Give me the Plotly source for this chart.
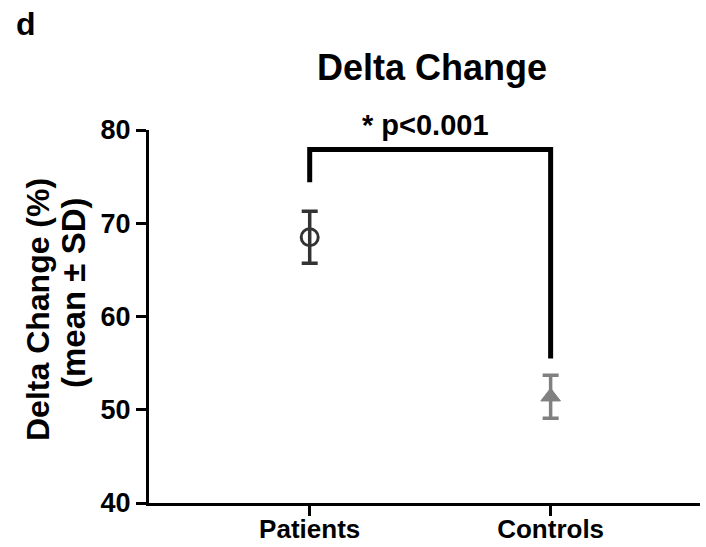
import plotly.graph_objects as go

groups = ["Patients", "Controls"]
means = [68.5, 51.4]
sds = [2.8, 2.3]
colors = ["#333333", "#808080"]
symbols = ["circle-open", "triangle-up"]
yticks = [40, 50, 60, 70, 80]
p_label = "* p<0.001"
bracket_top = 77.9
bracket_left_bottom = 74.4
bracket_right_bottom = 55.5

FONT = "Liberation Sans, Arial, sans-serif"
L, R, T, B = 149, 6, 130, 44
W, H = 706, 547
PW, PH = W - L - R, H - T - B


def px_x(p):
    return (p - L) / PW


def px_y(p):
    return (H - B - p) / PH


fig = go.Figure()
for i, g in enumerate(groups):
    fig.add_trace(go.Scatter(
        x=[i], y=[means[i]], mode="markers",
        marker=dict(symbol=symbols[i], size=17, color=colors[i],
                    line=dict(width=3 if i == 0 else 1, color=colors[i])),
        error_y=dict(type="data", array=[sds[i]], color=colors[i], thickness=3.5, width=8),
        showlegend=False, cliponaxis=False,
    ))

# significance bracket
fig.add_shape(type="path",
              path=f"M 0 {bracket_left_bottom} L 0 {bracket_top} L 1 {bracket_top} L 1 {bracket_right_bottom}",
              xref="x", yref="y", line=dict(color="black", width=5))
fig.add_annotation(x=0.48, y=bracket_top, xref="x", yref="y", text=p_label, showarrow=False,
                   yanchor="bottom", yshift=7, font=dict(family=FONT, size=29, color="black", weight="bold"))

fig.update_layout(
    width=W, height=H,
    margin=dict(l=L, r=R, t=T, b=B, autoexpand=False),
    paper_bgcolor="white", plot_bgcolor="white",
    title=dict(text="Delta Change", x=432 / W, xanchor="center", y=1 - 67 / H, yanchor="middle",
               font=dict(family=FONT, size=36, color="black", weight="bold")),
    font=dict(family=FONT, color="black"),
)
fig.update_xaxes(
    range=[-0.667, 1.62], tickvals=[0, 1], ticktext=groups, automargin=False,
    showline=True, linecolor="black", linewidth=3, showgrid=False, zeroline=False,
    ticks="outside", ticklen=10, tickwidth=3, tickcolor="black", ticklabelstandoff=-9,
    tickfont=dict(family=FONT, size=26, color="black", weight="bold"),
)
fig.update_yaxes(
    range=[40, 80], tickvals=yticks, automargin=False,
    showline=True, linecolor="black", linewidth=3, showgrid=False, zeroline=False,
    ticks="outside", ticklen=10, tickwidth=3, tickcolor="black",
    tickfont=dict(family=FONT, size=27, color="black", weight="bold"),
)
# y-axis title (two lines)
fig.add_annotation(x=px_x(38), y=px_y(310), xref="paper", yref="paper", xanchor="center", yanchor="middle",
                   text="Delta Change (%)", textangle=-90, showarrow=False,
                   font=dict(family=FONT, size=32, color="black", weight="bold"))
fig.add_annotation(x=px_x(73), y=px_y(293), xref="paper", yref="paper", xanchor="center", yanchor="middle",
                   text="(mean ± SD)", textangle=-90, showarrow=False,
                   font=dict(family=FONT, size=33, color="black", weight="bold"))
fig.add_annotation(x=px_x(14), y=px_y(4), xref="paper", yref="paper",
                   xanchor="left", yanchor="top", text="d", showarrow=False,
                   font=dict(family=FONT, size=32, color="black", weight="bold"))
fig.write_html("out.html")
